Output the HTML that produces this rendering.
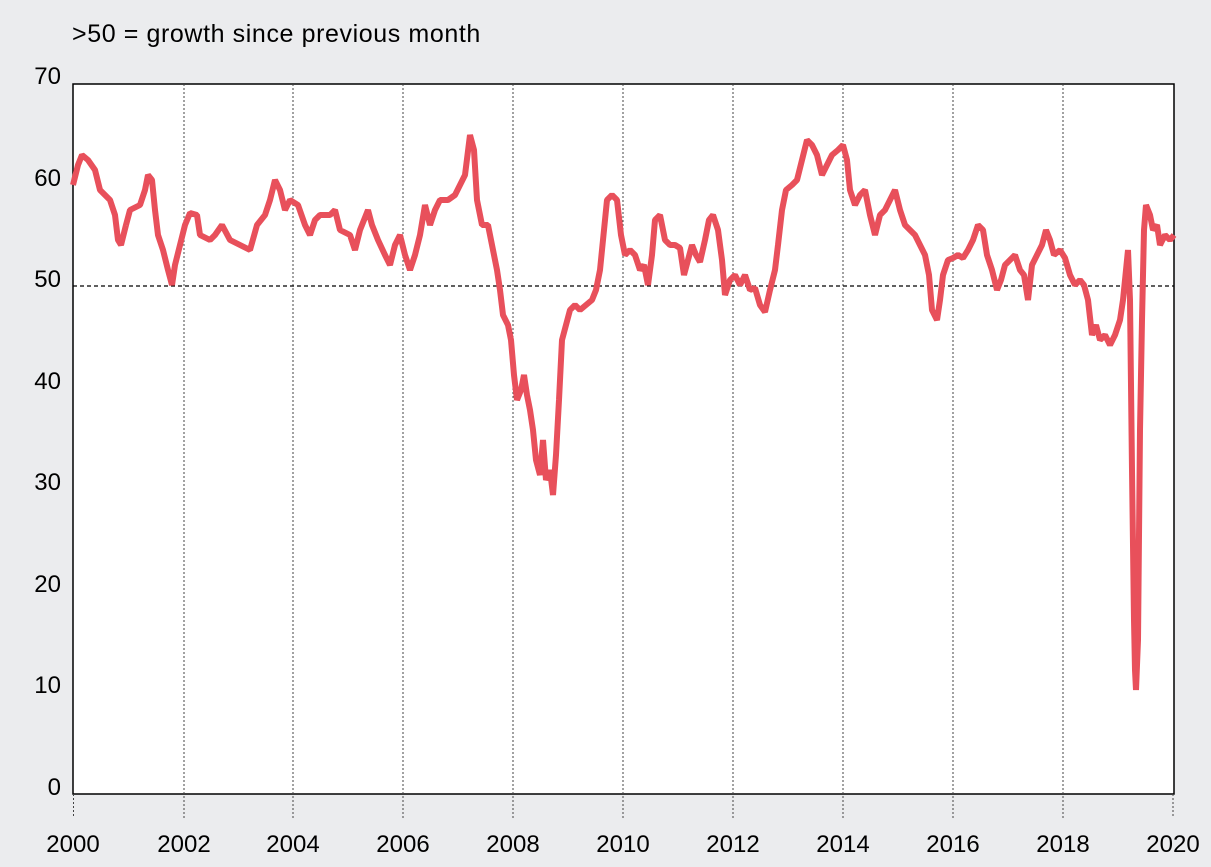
<!DOCTYPE html>
<html><head><style>
html,body{margin:0;padding:0;background:#ebecee;}
svg{display:block;font-family:"Liberation Sans",sans-serif;}
</style></head><body>
<svg width="1211" height="867" viewBox="0 0 1211 867">
<rect width="1211" height="867" fill="#ebecee"/>
<text x="72" y="42" font-size="25" letter-spacing="0.6" fill="#000">&gt;50 = growth since previous month</text>
<rect x="73" y="84" width="1101" height="710" fill="#fff" stroke="#000" stroke-width="1.5"/>
<g stroke="#444" stroke-width="1" stroke-dasharray="2,2">
<line x1="73.5" y1="794" x2="73.5" y2="818"/>
<line x1="184" y1="84" x2="184" y2="818"/>
<line x1="293" y1="84" x2="293" y2="818"/>
<line x1="403" y1="84" x2="403" y2="818"/>
<line x1="513" y1="84" x2="513" y2="818"/>
<line x1="623" y1="84" x2="623" y2="818"/>
<line x1="733" y1="84" x2="733" y2="818"/>
<line x1="843" y1="84" x2="843" y2="818"/>
<line x1="953" y1="84" x2="953" y2="818"/>
<line x1="1063" y1="84" x2="1063" y2="818"/>
<line x1="1173" y1="794" x2="1173" y2="818"/>
</g>
<line x1="73" y1="286" x2="1174" y2="286" stroke="#000" stroke-width="1.3" stroke-dasharray="4,3"/>
<g font-size="24" fill="#000" text-anchor="end">
<text x="61" y="84">70</text>
<text x="61" y="186">60</text>
<text x="61" y="287">50</text>
<text x="61" y="389">40</text>
<text x="61" y="490">30</text>
<text x="61" y="592">20</text>
<text x="61" y="693">10</text>
<text x="61" y="795">0</text>
</g>
<g font-size="24" fill="#000" text-anchor="middle">
<text x="73" y="852">2000</text><text x="184" y="852">2002</text><text x="293" y="852">2004</text>
<text x="403" y="852">2006</text><text x="513" y="852">2008</text><text x="623" y="852">2010</text>
<text x="733" y="852">2012</text><text x="843" y="852">2014</text><text x="953" y="852">2016</text>
<text x="1063" y="852">2018</text><text x="1173" y="852">2020</text>
</g>
<polyline fill="none" stroke="#e8505b" stroke-width="6" stroke-linejoin="bevel" points="73,185 78,165 82,155 88,160 95,170 100,190 110,200 115,215 118,240 121,245 126,225 130,210 140,205 145,190 148,175 152,180 155,210 158,235 163,250 168,270 172,285 175,265 180,245 185,225 190,213 197,215 200,235 210,240 215,235 222,225 230,240 240,245 250,250 257,225 265,215 270,200 275,180 280,190 285,210 290,200 298,205 305,225 310,235 315,220 320,215 330,215 335,210 340,230 350,235 355,250 360,230 368,210 372,225 378,240 385,255 390,265 395,245 400,235 405,255 410,270 415,255 420,235 425,205 430,225 435,210 440,200 448,200 455,195 460,185 465,175 470,135 474,150 477,200 482,225 488,225 493,250 497,270 500,290 503,315 508,325 511,340 514,375 517,400 521,390 524,375 527,395 530,410 533,430 536,460 540,475 543,440 546,480 550,470 553,495 556,455 559,400 562,340 566,325 570,310 575,305 580,310 586,305 592,300 596,290 600,270 603,240 607,200 612,195 617,200 621,235 625,255 630,250 635,255 640,270 644,265 648,285 652,255 655,220 660,215 665,240 670,245 675,245 680,248 684,275 688,260 692,245 696,255 700,262 705,240 709,220 713,215 718,230 722,260 725,295 730,280 735,275 740,285 745,275 750,290 755,288 760,305 765,312 770,290 775,270 778,245 782,210 786,190 792,185 797,180 802,160 807,140 812,145 817,155 822,175 827,165 832,155 838,150 843,145 847,160 850,190 855,205 860,195 865,190 870,215 875,235 880,215 885,210 890,200 895,190 900,210 905,225 910,230 915,235 920,245 925,255 929,275 932,310 937,320 940,300 943,275 948,260 953,258 958,255 963,258 968,250 973,240 978,225 983,230 987,255 992,270 997,290 1001,280 1005,265 1010,260 1015,255 1020,270 1024,275 1028,300 1032,265 1037,255 1042,245 1046,230 1050,240 1054,255 1060,250 1065,258 1070,275 1075,285 1080,280 1084,285 1088,300 1092,335 1096,325 1100,340 1105,335 1110,345 1115,335 1120,320 1123,300 1126,270 1128,250 1130,300 1132,470 1134,620 1135,670 1136,690 1138,640 1140,430 1142,320 1144,230 1146,205 1150,215 1153,230 1157,225 1160,245 1165,235 1170,240 1174,235"/>
</svg>
</body></html>
